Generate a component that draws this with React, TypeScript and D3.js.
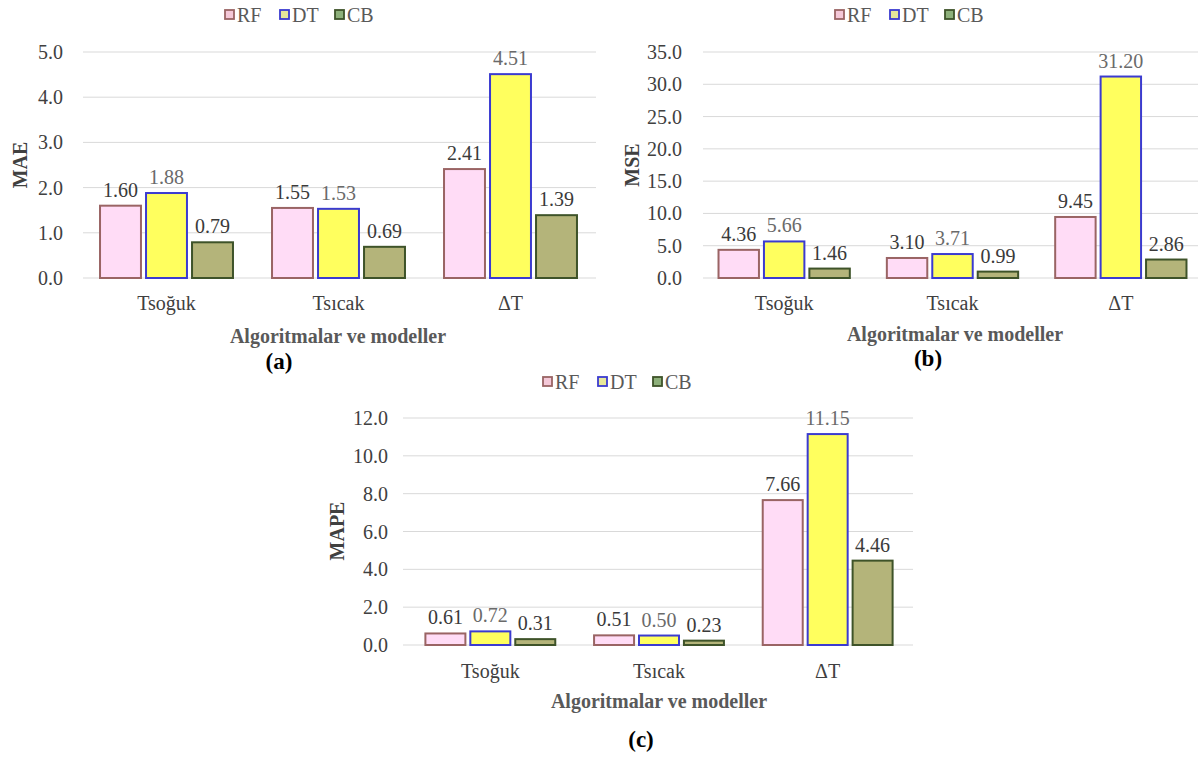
import React from "react";
import * as d3 from "d3";

const categories = ["Tsoğuk", "Tsıcak", "ΔT"];
const seriesNames = ["RF", "DT", "CB"];

const maeRF = [1.6, 1.55, 2.41];
const maeDT = [1.88, 1.53, 4.51];
const maeCB = [0.79, 0.69, 1.39];

const mseRF = [4.36, 3.1, 9.45];
const mseDT = [5.66, 3.71, 31.2];
const mseCB = [1.46, 0.99, 2.86];

const mapeRF = [0.61, 0.51, 7.66];
const mapeDT = [0.72, 0.5, 11.15];
const mapeCB = [0.31, 0.23, 4.46];

const maeTicks = [0, 1, 2, 3, 4, 5];
const mseTicks = [0, 5, 10, 15, 20, 25, 30, 35];
const mapeTicks = [0, 2, 4, 6, 8, 10, 12];

const xTitle = "Algoritmalar ve modeller";

const FILL: Record<string, string> = { RF: "#FFDCF6", DT: "#FFFF5E", CB: "#B4B47A" };
const STROKE: Record<string, string> = { RF: "#9A6464", DT: "#3B3BD0", CB: "#3E5329" };
const LEG_FILL: Record<string, string> = { RF: "#F4C8D8", DT: "#E8E89A", CB: "#8DB07A" };
const LABEL: Record<string, string> = { RF: "#3a3a3a", DT: "#6a6a6a", CB: "#3a3a3a" };

const FONT = "Liberation Serif, Times New Roman, serif";

type Layout = {
  x0: number; x1: number; pi: number;
  yb: number; yt: number;
  gx0: number; gx1: number;
  tickX: number;
  yTitleX: number; yTitleY: number;
  catY: number; titleY: number; titleX: number;
  letterX: number; letterY: number;
  legX: number; legY: number;
};

function Panel({ values, ticks, yTitle, letter, L }: { values: number[][]; ticks: number[]; yTitle: string; letter: string; L: Layout }) {
  const x0 = d3.scaleBand<string>().domain(categories).range([L.x0, L.x1]).paddingInner(L.pi).paddingOuter(L.pi / 2);
  const x1 = d3.scaleBand<string>().domain(seriesNames).range([0, x0.bandwidth()]).paddingInner(0.11);
  const y = d3.scaleLinear().domain([0, ticks[ticks.length - 1]]).range([L.yb, L.yt]);
  const fmtT = d3.format(".1f");
  const fmtV = d3.format(".2f");
  const ts = { fontFamily: FONT };
  return (
    <g style={ts}>
      {ticks.map((t) => (
        <g key={t}>
          <line x1={L.gx0} x2={L.gx1} y1={y(t)} y2={y(t)} stroke="#d9d9d9" strokeWidth={1} />
          <text style={ts} x={L.tickX} y={y(t)} dy="0.35em" textAnchor="end" fontSize={20} fill="#404040">{fmtT(t)}</text>
        </g>
      ))}
      {categories.map((c, ci) => (
        <g key={c} transform={`translate(${x0(c)},0)`}>
          {seriesNames.map((s, si) => {
            const v = values[si][ci];
            const bx = x1(s)!;
            return (
              <g key={s}>
                <rect x={bx} y={y(v)} width={x1.bandwidth()} height={L.yb - y(v)} fill={FILL[s]} stroke={STROKE[s]} strokeWidth={2} />
                <text style={ts} x={bx + x1.bandwidth() / 2} y={y(v) - 9} textAnchor="middle" fontSize={20} fill={LABEL[s]}>{fmtV(v)}</text>
              </g>
            );
          })}
          <text style={ts} x={x0.bandwidth() / 2} y={L.catY} textAnchor="middle" fontSize={20} fill="#404040">{c}</text>
        </g>
      ))}
      <text style={ts} transform={`translate(${L.yTitleX},${L.yTitleY}) rotate(-90)`} textAnchor="middle" dy="0.35em" fontSize={20} fontWeight="bold" fill="#404040">{yTitle}</text>
      <text style={ts} x={L.titleX} y={L.titleY} textAnchor="middle" fontSize={20} fontWeight="bold" fill="#595959">{xTitle}</text>
      <text style={ts} x={L.letterX} y={L.letterY} textAnchor="middle" fontSize={23} fontWeight="bold" fill="#000">{letter}</text>
      {seriesNames.map((s, i) => (
        <g key={s} transform={`translate(${L.legX + i * 55},${L.legY})`}>
          <rect x={0} y={-5} width={9} height={9} fill={LEG_FILL[s]} stroke={STROKE[s]} strokeWidth={1.8} />
          <text style={ts} x={12} y={0} dy="0.35em" fontSize={20} fill="#595959">{s}</text>
        </g>
      ))}
    </g>
  );
}

export default function App() {
  const la: Layout = { x0: 80.5, x1: 596.5, pi: 0.227, yb: 278, yt: 52, gx0: 83, gx1: 596, tickX: 63, yTitleX: 20, yTitleY: 165, catY: 310, titleY: 343, titleX: 338, letterX: 279, letterY: 369, legX: 225, legY: 15 };
  const lb: Layout = { x0: 700, x1: 1205, pi: 0.22, yb: 278, yt: 52, gx0: 703, gx1: 1205, tickX: 682, yTitleX: 632, yTitleY: 165, catY: 310, titleY: 341, titleX: 955, letterX: 928, letterY: 366, legX: 835, legY: 15 };
  const lc: Layout = { x0: 406, x1: 912, pi: 0.23, yb: 645, yt: 418, gx0: 403, gx1: 913, tickX: 388, yTitleX: 337, yTitleY: 531, catY: 678, titleY: 708, titleX: 659, letterX: 641, letterY: 747, legX: 543, legY: 382 };
  return (
    <svg width={1198} height={757} style={{ position: "absolute", left: 0, top: 0, background: "#fff" }}>
      <rect width={1198} height={757} fill="#fff" />
      <Panel values={[maeRF, maeDT, maeCB]} ticks={maeTicks} yTitle="MAE" letter="(a)" L={la} />
      <Panel values={[mseRF, mseDT, mseCB]} ticks={mseTicks} yTitle="MSE" letter="(b)" L={lb} />
      <Panel values={[mapeRF, mapeDT, mapeCB]} ticks={mapeTicks} yTitle="MAPE" letter="(c)" L={lc} />
    </svg>
  );
}
